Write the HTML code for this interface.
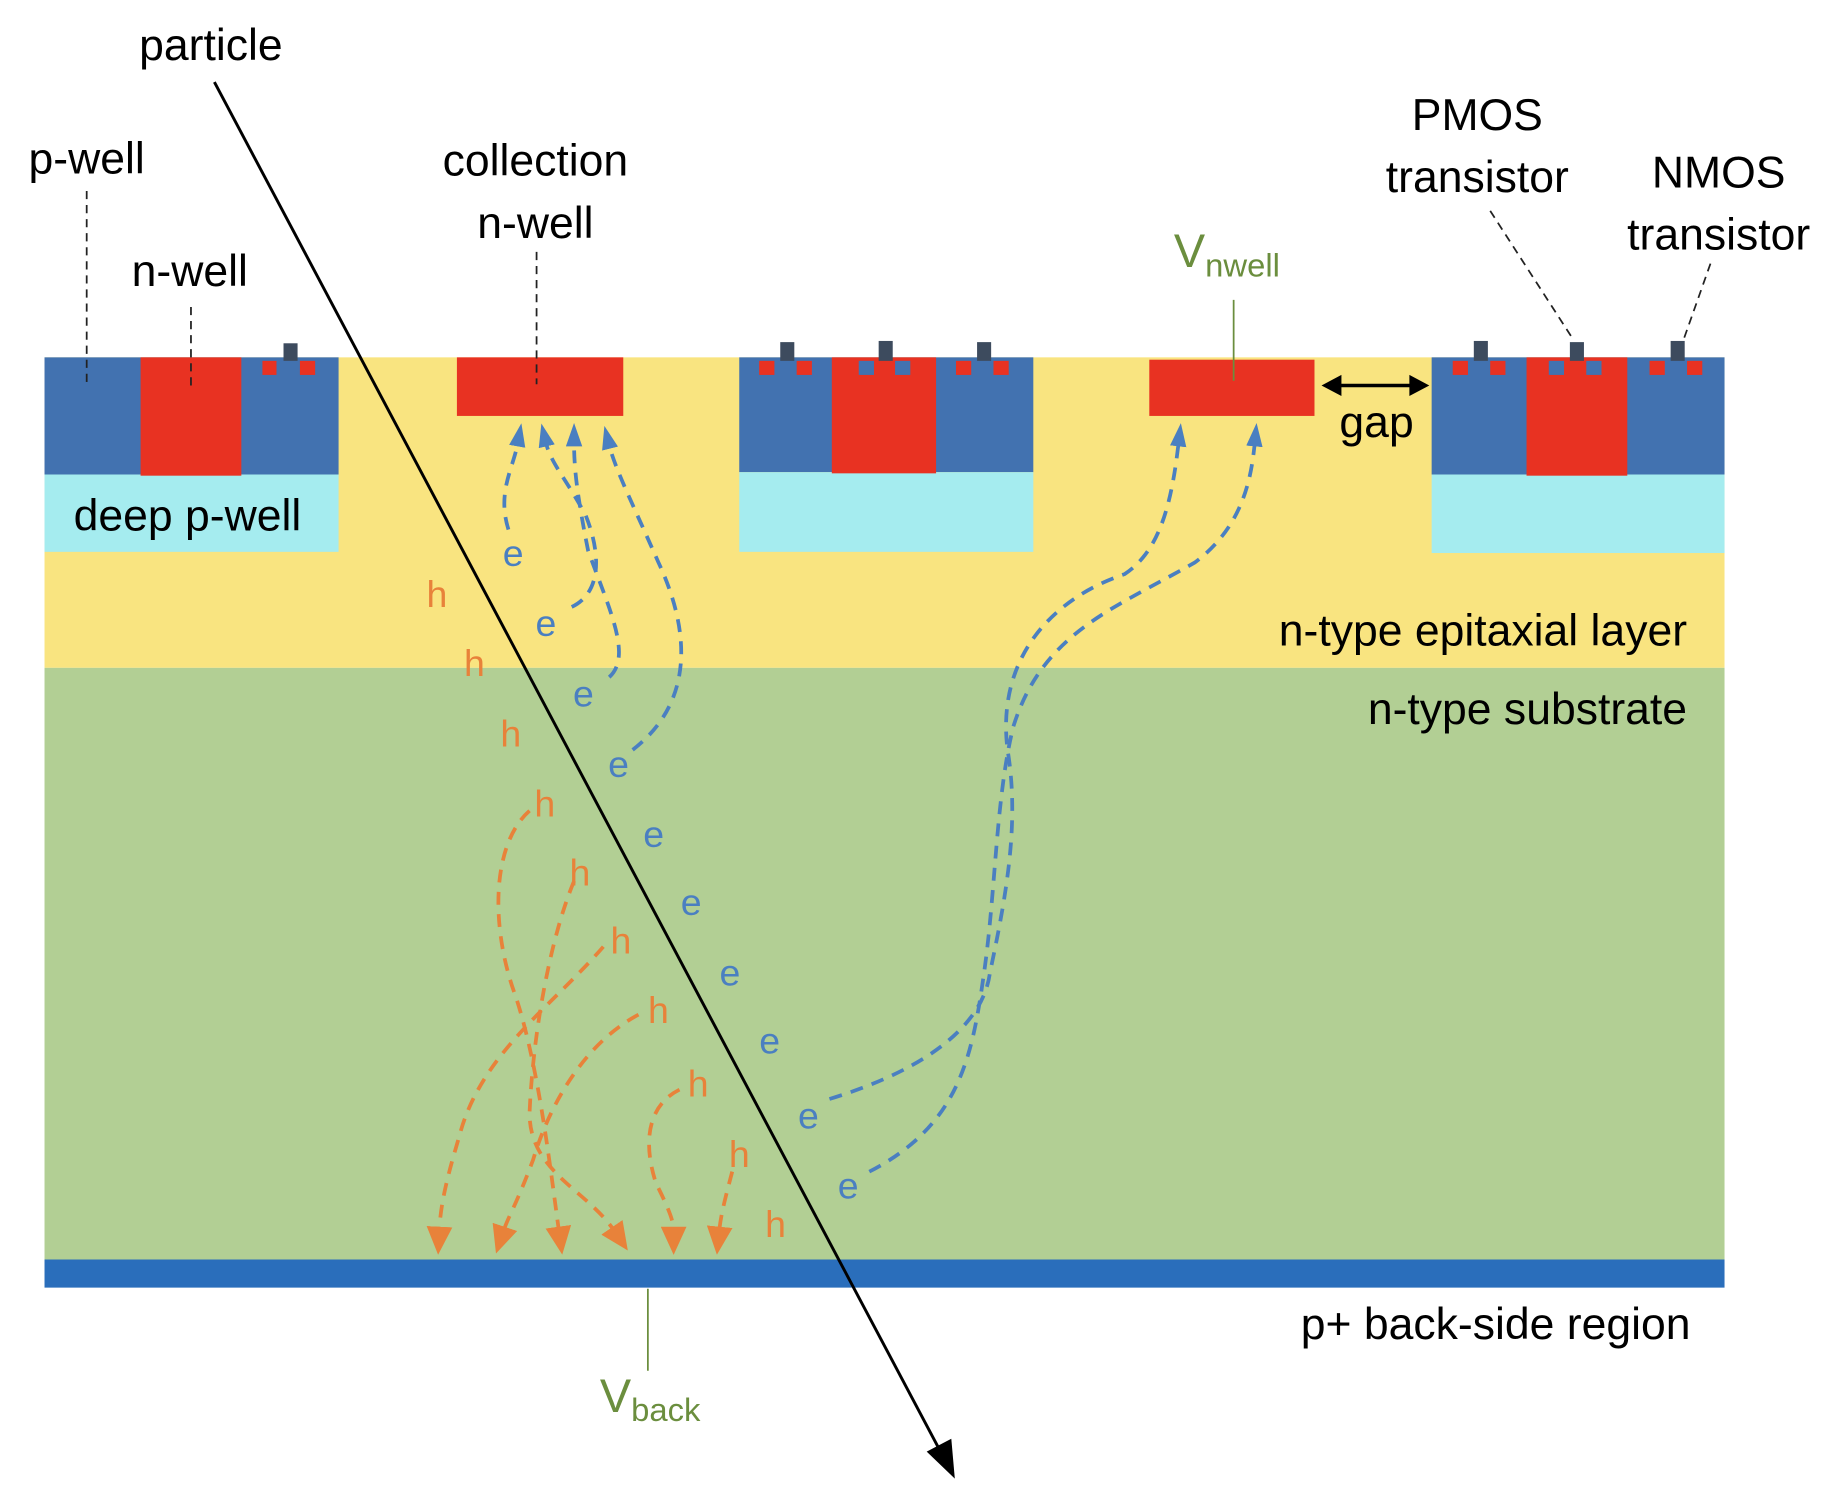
<!DOCTYPE html>
<html><head><meta charset="utf-8"><style>
html,body{margin:0;padding:0;background:#fff;}
svg{display:block;}
text{font-family:"Liberation Sans","DejaVu Sans",sans-serif;}
</style></head><body>
<svg width="1837" height="1495" viewBox="0 0 1568 1276" preserveAspectRatio="none" xmlns="http://www.w3.org/2000/svg">
<defs>
<marker id="ab" markerWidth="20" markerHeight="14" refX="3" refY="7" orient="auto" markerUnits="userSpaceOnUse" viewBox="0 0 20 14"><path d="M0,0 L20,7 L0,14 z" fill="#4a7fc1"/></marker>
<marker id="ao" markerWidth="24" markerHeight="22" refX="3" refY="11" orient="auto" markerUnits="userSpaceOnUse" viewBox="0 0 24 22"><path d="M0,0 L24,11 L0,22 z" fill="#e8823a"/></marker>
</defs>
<rect x="38" y="305" width="1434" height="265" fill="#f9e480"/>
<rect x="38" y="570" width="1434" height="505" fill="#b2cf94"/>
<rect x="38" y="1075" width="1434" height="24" fill="#2a6ebb"/>
<rect x="38" y="305" width="251" height="100" fill="#4272b0"/>
<rect x="38" y="405" width="251" height="66" fill="#a5ecef"/>
<rect x="120" y="305" width="86" height="101" fill="#e83222"/>
<rect x="224" y="308" width="12" height="12" fill="#e83222"/><rect x="256" y="308" width="13" height="12" fill="#e83222"/>
<rect x="242" y="293" width="12" height="15" fill="#3d4b5e"/>
<rect x="390" y="305" width="142" height="50" fill="#e83222"/>
<rect x="631" y="305" width="251" height="98" fill="#4272b0"/>
<rect x="631" y="403" width="251" height="68" fill="#a5ecef"/>
<rect x="710" y="305" width="89" height="99" fill="#e83222"/>
<g fill="#e83222"><rect x="648" y="308" width="13" height="12"/><rect x="680" y="308" width="13" height="12"/><rect x="848" y="308" width="13" height="12"/><rect x="816" y="308" width="13" height="12"/></g>
<g fill="#4272b0"><rect x="733" y="308" width="13" height="12"/><rect x="764" y="308" width="13" height="12"/></g>
<g fill="#3d4b5e"><rect x="666" y="292" width="12" height="16"/><rect x="750" y="291" width="12" height="17"/><rect x="834" y="292" width="12" height="16"/></g>
<rect x="981" y="307" width="141" height="48" fill="#e83222"/>
<rect x="1222" y="305" width="250" height="100" fill="#4272b0"/>
<rect x="1222" y="405" width="250" height="67" fill="#a5ecef"/>
<rect x="1303" y="305" width="86" height="101" fill="#e83222"/>
<g fill="#e83222"><rect x="1240" y="308" width="13" height="12"/><rect x="1272" y="308" width="13" height="12"/><rect x="1408" y="308" width="13" height="12"/><rect x="1440" y="308" width="13" height="12"/></g>
<g fill="#4272b0"><rect x="1322" y="308" width="13" height="12"/><rect x="1354" y="308" width="13" height="12"/></g>
<g fill="#3d4b5e"><rect x="1258" y="291" width="12" height="17"/><rect x="1340" y="292" width="12" height="16"/><rect x="1426" y="291" width="12" height="17"/></g>
<g stroke="#222" stroke-width="1.5" stroke-dasharray="7,5" fill="none">
<path d="M74,163 V330"/><path d="M163,262 V330"/><path d="M458,215 V328"/><path d="M1272,180 L1343,290"/><path d="M1460,225 L1437,290"/>
</g>
<g stroke="#6b8e3e" stroke-width="1.5"><path d="M1053,256 V325"/><path d="M553,1100 V1170"/></g>
<path d="M1140,329 H1208" stroke="#000" stroke-width="3"/>
<path d="M1128,329 L1145,320 L1145,338 z M1220,329 L1203,320 L1203,338 z" fill="#000"/>
<g stroke="#4a7fc1" stroke-width="3.2" stroke-dasharray="11,8" fill="none" marker-end="url(#ab)">
<path d="M434,452 C424,420 438,400 442,378"/>
<path d="M488,518 C515,505 512,470 500,440 C484,410 470,395 466,378"/>
<path d="M520,578 C540,560 520,520 502,470 C492,420 490,398 490,378"/>
<path d="M540,640 C592,600 590,540 562,480 C540,430 525,400 520,380"/>
<path d="M708,938 C800,910 840,870 845,830 C860,760 870,700 860,640 C850,560 900,510 960,490 C990,470 1000,430 1006,378"/>
<path d="M742,1000 C820,960 830,900 840,830 C850,760 850,680 865,620 C890,540 950,520 1020,480 C1060,450 1068,410 1071,378"/>
</g>
<g stroke="#e8823a" stroke-width="3.2" stroke-dasharray="11,8" fill="none" marker-end="url(#ao)">
<path d="M452,692 C420,720 418,790 440,850 C460,910 470,1000 477,1050"/>
<path d="M490,752 C470,800 455,880 452,950 C452,1000 500,1015 524,1050"/>
<path d="M515,808 C470,860 410,900 392,970 C380,1010 376,1030 375,1050"/>
<path d="M545,866 C500,890 470,940 455,990 C440,1030 434,1038 430,1050"/>
<path d="M580,930 C550,945 550,980 560,1010 C570,1030 575,1042 575,1050"/>
<path d="M625,1000 C617,1030 615,1040 614,1050"/>
</g>
<path d="M183,70 L806,1245" stroke="#000" stroke-width="2.5"/>
<path d="M815,1262 L791,1239 L812,1228 z" fill="#000"/>
<g fill="#4a7fc1" font-size="32" text-anchor="middle">
<text x="438" y="483">e</text><text x="466" y="543">e</text><text x="498" y="603">e</text><text x="528" y="663">e</text><text x="558" y="723">e</text><text x="590" y="781">e</text><text x="623" y="841">e</text><text x="657" y="899">e</text><text x="690" y="963">e</text><text x="724" y="1023">e</text>
</g>
<g fill="#e8823a" font-size="32" text-anchor="middle">
<text x="373" y="518">h</text><text x="405" y="577">h</text><text x="436" y="637">h</text><text x="465" y="697">h</text><text x="495" y="756">h</text><text x="530" y="814">h</text><text x="562" y="873">h</text><text x="596" y="936">h</text><text x="631" y="996">h</text><text x="662" y="1056">h</text>
</g>
<g fill="#000" font-size="38" text-anchor="middle">
<text x="180" y="51">particle</text>
<text x="74" y="148">p-well</text>
<text x="162" y="244">n-well</text>
<text x="457" y="150">collection</text>
<text x="457" y="203">n-well</text>
<text x="1261" y="111">PMOS</text>
<text x="1261" y="164">transistor</text>
<text x="1467" y="160">NMOS</text>
<text x="1467" y="213">transistor</text>
<text x="160" y="453">deep p-well</text>
<text x="1175" y="373">gap</text>
</g>
<g fill="#000" font-size="38" text-anchor="end">
<text x="1440" y="551">n-type epitaxial layer</text>
<text x="1440" y="618">n-type substrate</text>
<text x="1443" y="1143">p+ back-side region</text>
</g>
<text x="1002" y="228" fill="#6b8e3e" font-size="40">V<tspan font-size="28" dy="8">nwell</tspan></text>
<text x="512" y="1205" fill="#6b8e3e" font-size="40">V<tspan font-size="28" dy="8">back</tspan></text>
</svg>
</body></html>
